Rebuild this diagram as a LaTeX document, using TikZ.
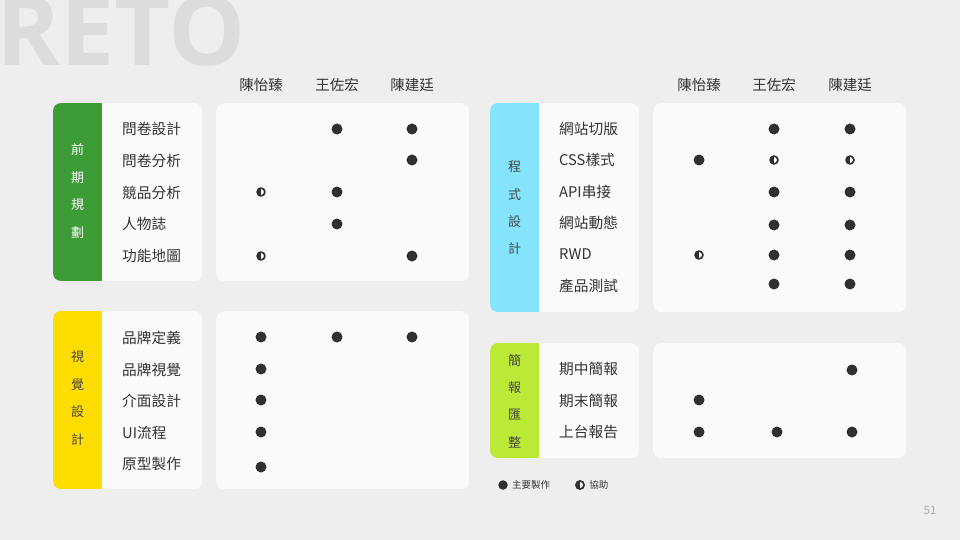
\documentclass[tikz,border=0pt]{standalone}
\usepackage{fontspec}
\setmainfont{Noto Sans CJK TC}
\newfontfamily\retofont{Open Sans}
\usepackage{tikz}
\usetikzlibrary{positioning}

\definecolor{bgc}{HTML}{EEEEEE}
\definecolor{retoc}{HTML}{DCDCDC}
\definecolor{panelc}{HTML}{FAFAFA}
\definecolor{textc}{HTML}{333333}
\definecolor{dotc}{HTML}{303030}
\definecolor{plangreen}{HTML}{3C9C36}
\definecolor{visyellow}{HTML}{FFDD00}
\definecolor{progcyan}{HTML}{84E4FB}
\definecolor{replime}{HTML}{BAEA35}
\definecolor{numc}{HTML}{ABABAB}

\newcommand\dotfull[2]{\fill[dotc] (#1,#2) circle (5.5);}
\newcommand\dothalf[2]{%
  \fill[dotc] (#1,#2) circle (4.8);
  \fill[white] (#1,#2) ++(0,-2.9) arc (-90:90:2.9) -- cycle;}

\begin{document}
\begin{tikzpicture}[x=1pt,y=-1pt]

\tikzstyle{panel}=[fill=panelc, rounded corners=8pt, inner sep=0pt, anchor=north west]
\tikzstyle{item}=[font=\fontsize{14.7}{16}\selectfont, text=textc, anchor=west, inner sep=0pt]
\tikzstyle{head}=[font=\fontsize{14.5}{16}\selectfont, text=textc, inner sep=0pt]
\tikzstyle{tabtext}=[font=\fontsize{13}{27.4}\selectfont, align=center, inner sep=0pt]
\tikzstyle{legend}=[font=\fontsize{9.5}{10}\selectfont, text=textc, inner sep=0pt]

%%BACKGROUND
\fill[bgc] (0,0) rectangle (960,540);
\useasboundingbox (0,0) rectangle (960,540);

%%TITLE
\node (reto) [font=\retofont\bfseries\fontsize{97}{97}\selectfont, text=retoc,
	anchor=base west, inner sep=0pt] at (-4,66) {RETO};

%% HEADERS
\node (hl1) [head] at (261,85) {陳怡臻};
\node (hl2) [head] at (337,85) {王佐宏};
\node (hl3) [head] at (412,85) {陳建廷};
\node (hr1) [head] at (699,85) {陳怡臻};
\node (hr2) [head] at (774,85) {王佐宏};
\node (hr3) [head] at (850,85) {陳建廷};

%% PLAN
\node (plan) [panel, minimum width=149pt, minimum height=178pt] at (53,103) {};
\begin{scope}
\clip[rounded corners=8pt] (53,103) rectangle (202,281);
\fill[plangreen] (53,103) rectangle (102,281);
\end{scope}
\node (plantab) [tabtext, text=white] at (77.5,191) {前\\期\\規\\劃};
\node (planmx) [panel, minimum width=253pt, minimum height=178pt] at (216,103) {};
\foreach \t [count=\i] in {問卷設計,問卷分析,競品分析,人物誌,功能地圖}
	\node (plan-\i) [item] at (122,{129+31.75*(\i-1)}) {\t};
\dotfull{337}{129} \dotfull{412}{129}
\dotfull{412}{160}
\dothalf{261}{192} \dotfull{337}{192}
\dotfull{337}{224}
\dothalf{261}{256} \dotfull{412}{256}

%% VISUAL
\node (vis) [panel, minimum width=149pt, minimum height=178pt] at (53,311) {};
\begin{scope}
\clip[rounded corners=8pt] (53,311) rectangle (202,489);
\fill[visyellow] (53,311) rectangle (102,489);
\end{scope}
\node (vistab) [tabtext, text=black!72] at (77.5,398) {視\\覺\\設\\計};
\node (vismx) [panel, minimum width=253pt, minimum height=178pt] at (216,311) {};
\foreach \t [count=\i] in {品牌定義,品牌視覺,介面設計,UI流程,原型製作}
	\node (vis-\i) [item] at (122,{338+31.6*(\i-1)}) {\t};
\dotfull{261}{337} \dotfull{337}{337} \dotfull{412}{337}
\dotfull{261}{369}
\dotfull{261}{400}
\dotfull{261}{432}
\dotfull{261}{467}

%% PROGRAM
\node (prog) [panel, minimum width=149pt, minimum height=209pt] at (490,103) {};
\begin{scope}
\clip[rounded corners=8pt] (490,103) rectangle (639,312);
\fill[progcyan] (490,103) rectangle (539,312);
\end{scope}
\node (progtab) [tabtext, text=black!72] at (514.5,208) {程\\式\\設\\計};
\node (progmx) [panel, minimum width=253pt, minimum height=209pt] at (653,103) {};
\foreach \t [count=\i] in {網站切版,CSS樣式,API串接,網站動態,RWD,產品測試}
	\node (prog-\i) [item] at (559,{129+31.4*(\i-1)}) {\t};
\dotfull{774}{129} \dotfull{850}{129}
\dotfull{699}{160} \dothalf{774}{160} \dothalf{850}{160}
\dotfull{774}{192} \dotfull{850}{192}
\dotfull{774}{225} \dotfull{850}{225}
\dothalf{699}{255} \dotfull{774}{255} \dotfull{850}{255}
\dotfull{774}{284} \dotfull{850}{284}

%% REPORT
\node (rep) [panel, minimum width=149pt, minimum height=115pt] at (490,343) {};
\begin{scope}
\clip[rounded corners=8pt] (490,343) rectangle (639,458);
\fill[replime] (490,343) rectangle (539,458);
\end{scope}
\node (reptab) [tabtext, text=black!72] at (514.5,401) {簡\\報\\匯\\整};
\node (repmx) [panel, minimum width=253pt, minimum height=115pt] at (653,343) {};
\foreach \t [count=\i] in {期中簡報,期末簡報,上台報告}
	\node (rep-\i) [item] at (559,{369+31.5*(\i-1)}) {\t};
\dotfull{852}{370}
\dotfull{699}{400}
\dotfull{699}{432} \dotfull{777}{432} \dotfull{852}{432}

%% LEGEND
\node (lgfull) [circle, fill=dotc, minimum size=9.5pt, inner sep=0pt] at (503,485) {};
\node (lgmain) [legend, right=4pt of lgfull] {主要製作};
\node (lghalf) [circle, fill=dotc, minimum size=10pt, inner sep=0pt] at (580,485) {};
\fill[white] (lghalf.center) ++(0,-3) arc (-90:90:3) -- cycle;
\node (lghelp) [legend, right=4pt of lghalf] {協助};

%% PAGE
\node (pnum) [font=\fontsize{11.5}{12}\selectfont, text=numc, inner sep=0pt] at (930,510) {51};

\end{tikzpicture}
\end{document}
